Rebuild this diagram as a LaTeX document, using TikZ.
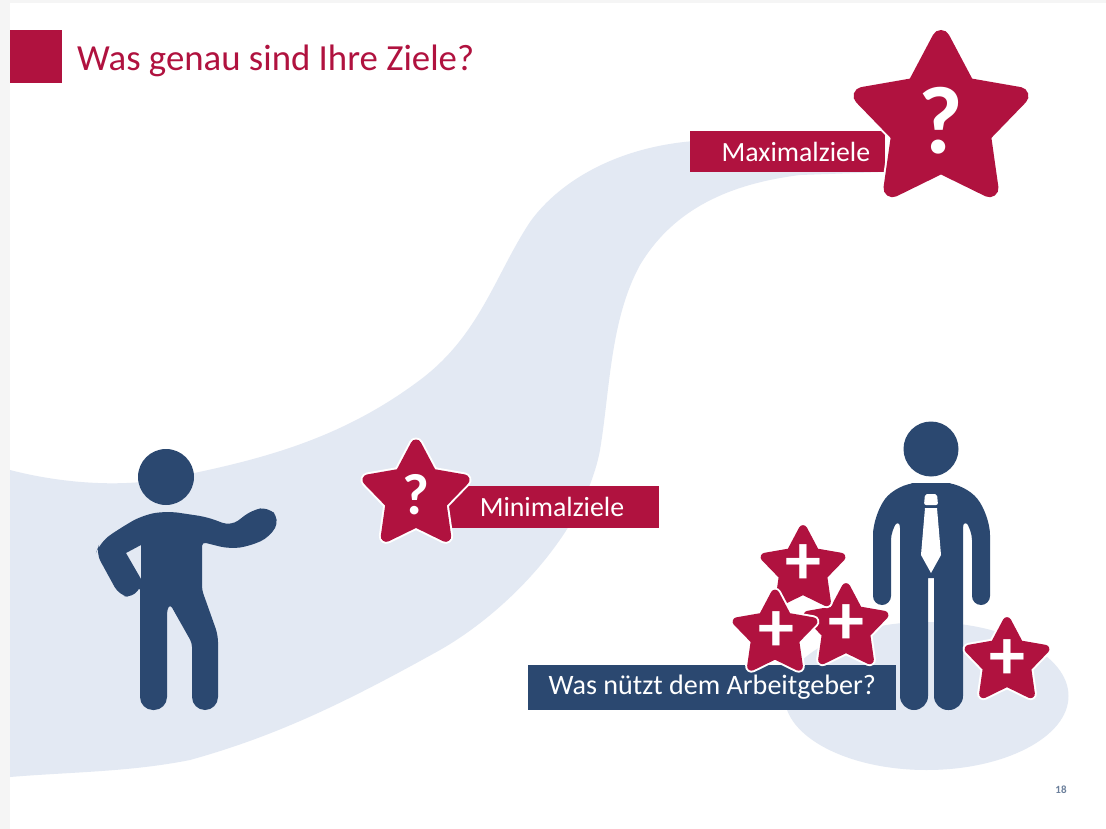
\documentclass[tikz,border=0pt]{standalone}
\usepackage{fontspec}
\setmainfont{Carlito}
\usetikzlibrary{shapes.geometric}
\definecolor{crimson}{HTML}{B0123F}
\definecolor{navy}{HTML}{2B4870}
\definecolor{road}{HTML}{E3E9F3}
\definecolor{margin}{HTML}{F5F5F5}
\begin{document}
\begin{tikzpicture}[x=1pt,y=-1pt]
    % Define styles
    \tikzset{
        goalstar/.style = {star, star points=5, star point ratio=1.92, inner sep=0pt, fill=crimson, draw=crimson, line join=round, line width=#1, preaction={draw=white, line join=round, line width=#1+4pt}},
        bigmark/.style = {text=white, inner sep=0pt, font=\bfseries\fontsize{96}{96}\selectfont},
        smallmark/.style = {text=white, inner sep=0pt, font=\bfseries\fontsize{58}{58}\selectfont},
        plusmark/.style = {text=white, inner sep=0pt, font=\bfseries\fontsize{72}{72}\selectfont},
        tagbar/.style = {rectangle, fill=#1, text=white, inner ysep=0pt, align=right, anchor=west, font=\fontsize{27.8}{27.8}\selectfont}
    }
    \useasboundingbox (0,0) rectangle (1106,829);
    \fill[margin] (0,0) rectangle (1106,829);
    \fill[white] (10,3) rectangle (1106,829);

    % Path and ground
    \fill[road] (10,470) .. controls (60,483) and (120,488) .. (170,478)
        .. controls (260,460) and (340,440) .. (420,380)
        .. controls (480,335) and (495,275) .. (530,222)
        .. controls (560,180) and (625,140) .. (720,140)
        -- (885,140) -- (885,172) -- (800,175)
        .. controls (720,185) and (670,215) .. (640,265)
        .. controls (610,320) and (610,390) .. (600,450)
        .. controls (585,530) and (510,610) .. (440,650)
        .. controls (350,700) and (280,735) .. (190,760)
        .. controls (130,772) and (70,772) .. (10,777) -- cycle;
    \fill[road] (926.5,696) ellipse [x radius=142, y radius=74];

    % Left figure
    \node (headleft) [circle, fill=navy, minimum size=56pt, inner sep=0pt] at (166,477) {};
    \fill[navy, even odd rule, rounded corners=9pt] (167,511) -- (207,517) -- (231,526) -- (252,510) -- (268,507) [rounded corners=10pt] -- (280,519) -- (270,537) -- (250,546) -- (230,549) [rounded corners=4pt] -- (202,542)
        -- (202,590) [rounded corners=7pt] -- (218,635) [rounded corners=13pt] -- (218,710) -- (192,710) [rounded corners=4pt] -- (192,643) -- (170,604) -- (167,610)
        [rounded corners=13pt] -- (167,710) -- (140,710) [rounded corners=3pt] -- (140,587) [rounded corners=9pt] -- (133,598) -- (119,595) -- (96,553) [rounded corners=12pt] -- (100,542) -- (122,527) -- (143,515) -- cycle
        [sharp corners] (141,545) -- (126,553) -- (141,579) -- cycle;

    % Right figure
    \node (headright) [circle, fill=navy, minimum size=55pt, inner sep=0pt] at (931,449) {};
    \fill[navy, rounded corners=20pt] (931,483) -- (965,483) -- (990,515) [rounded corners=9pt] -- (990,605) -- (972,605) [rounded corners=10pt] -- (972,530) -- (963,518) [rounded corners=14pt]
        -- (963,710) -- (934,710) [sharp corners] -- (934,578) -- (928,578) [rounded corners=14pt] -- (928,710) -- (900,710) [rounded corners=10pt] -- (900,518) -- (891,530) [rounded corners=9pt] -- (891,605) -- (873,605) [rounded corners=20pt] -- (873,515) -- (897,483) -- cycle;
    \fill[white, rounded corners=2pt] (925,494) -- (937,494) -- (938,505) -- (924,505) -- cycle;
    \fill[white] (925,508) -- (937,508) -- (941,555) -- (931,573) -- (921,555) -- cycle;

    % Title
    \node (titlebox) [rectangle, fill=crimson, minimum width=52pt, minimum height=53pt, inner sep=0pt] at (36,56.5) {};
    \node (title) [anchor=base west, inner sep=0pt, text=crimson, font=\fontsize{36.8}{36.8}\selectfont] at (77,71) {Was genau sind Ihre Ziele?};

    % Tags
    \node (maxtag) [tagbar=crimson, text width=165pt, inner xsep=15pt, minimum height=41pt] at (690,151.5) {Maximalziele};
    \node (mintag) [tagbar=crimson, inner xsep=35pt, text width=145pt, minimum height=42pt] at (444,507) {Minimalziele};
    \node (bentag) [tagbar=navy, align=center, inner xsep=0pt, minimum width=368pt, minimum height=45pt, font=\fontsize{28.1}{28.1}\selectfont] at (528,687.5) {Was nützt dem Arbeitgeber?};

    % Stars
    \node (maxstar) [goalstar=18pt, minimum size=165pt] at (941,121.5) {};
    \node (maxmark) [bigmark] at (941,121) {?};
    \node (minstar) [goalstar=11pt, minimum size=101pt] at (416,495.5) {};
    \node (minmark) [smallmark] at (416,495) {?};
    \node (plusc) [goalstar=8.7pt, minimum size=80pt] at (846,627.5) {};
    \node (pluscmark) [plusmark] at (846,625) {+};
    \node (plusa) [goalstar=8.7pt, minimum size=80pt] at (803,569.5) {};
    \node (plusamark) [plusmark] at (803,565) {+};
    \node (plusb) [goalstar=8.7pt, minimum size=80pt] at (775,634) {};
    \node (plusbmark) [plusmark] at (776,632) {+};
    \node (plusd) [goalstar=8.7pt, minimum size=80pt] at (1007,661.5) {};
    \node (plusdmark) [plusmark] at (1007,660) {+};

    \node (pagenum) [text=navy!70, font=\bfseries\fontsize{11}{11}\selectfont] at (1061,790) {18};
\end{tikzpicture}
\end{document}
